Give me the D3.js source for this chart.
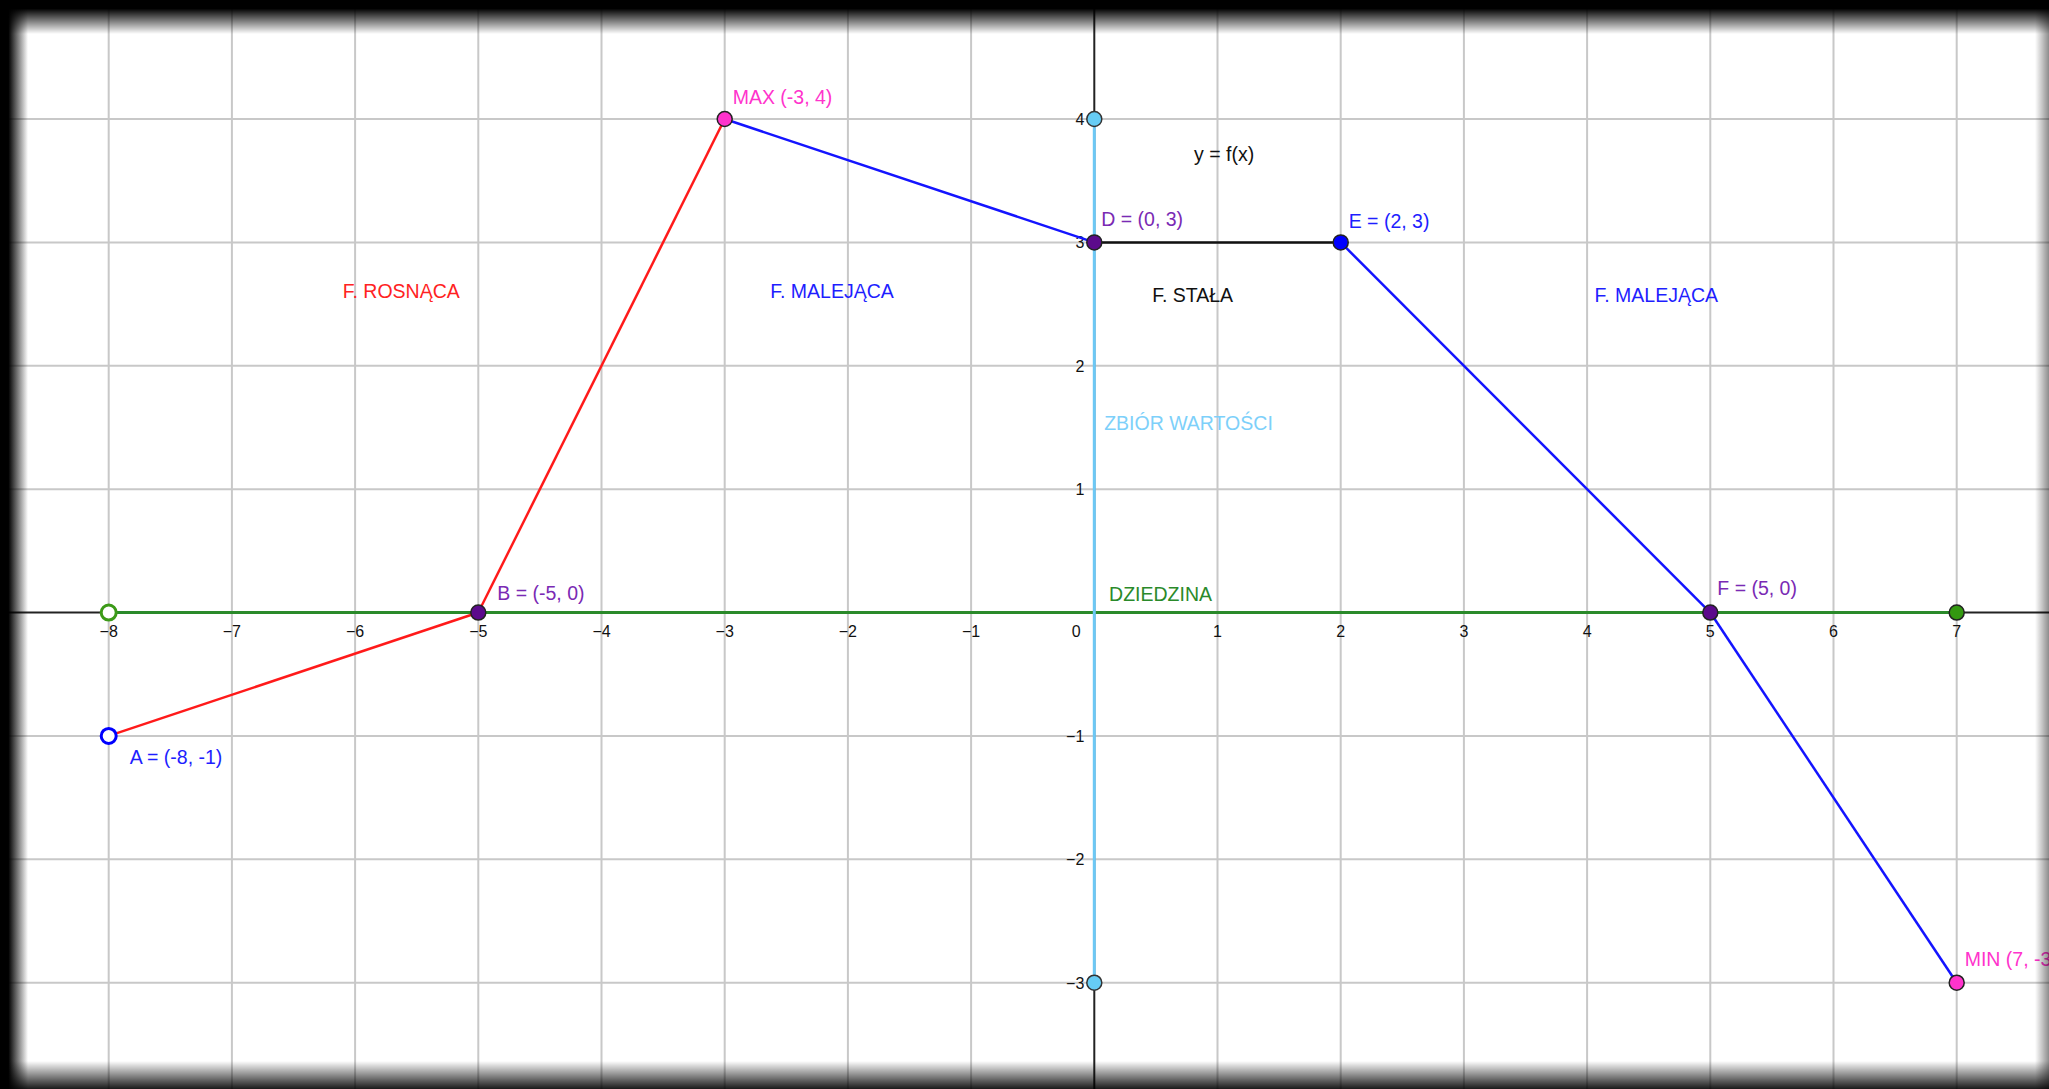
<!DOCTYPE html>
<html>
<head>
<meta charset="utf-8">
<script src="https://cdn.jsdelivr.net/npm/d3@7"></script>
<style>
  body { margin: 0; background: #fff; overflow: hidden; }
  svg { display: block; font-family: "Liberation Sans", Arial, sans-serif; }
</style>
</head>
<body>
<svg id="chart"></svg>
<script>
// function graph y = f(x), vertices in order
const fX = [-8, -5, -3, 0, 2, 5, 7];
const fY = [-1, 0, 4, 3, 3, 0, -3];
const pointLabels = ["A = (-8, -1)", "B = (-5, 0)", "MAX (-3, 4)", "D = (0, 3)", "E = (2, 3)", "F = (5, 0)", "MIN (7, -3)"];

// domain on x axis, range on y axis
const domainX = [-8, 7];
const rangeY = [-3, 4];

const xTicks = [-8, -7, -6, -5, -4, -3, -2, -1, 0, 1, 2, 3, 4, 5, 6, 7];
const yTicks = [-3, -2, -1, 1, 2, 3, 4];

// free texts placed in the plane (x, y of the text start / baseline)
const noteTexts = ["F. ROSNĄCA", "F. MALEJĄCA", "F. STAŁA", "F. MALEJĄCA", "y = f(x)", "ZBIÓR WARTOŚCI", "DZIEDZINA"];
const noteX = [-6.1, -2.63, 0.47, 4.06, 0.81, 0.08, 0.12];
const noteY = [2.55, 2.55, 2.52, 2.52, 3.66, 1.48, 0.09];

const width = 2049, height = 1089;

const svg = d3.select("#chart").attr("width", width).attr("height", height);

const x = d3.scaleLinear().domain([-8, 7]).range([108.7, 1956.7]);
const y = d3.scaleLinear().domain([-3, 4]).range([982.7, 119]);

// grid
const grid = svg.append("g").attr("stroke", "#c8c8c8").attr("stroke-width", 2);
grid.selectAll("line.v")
    .data(d3.range(-8, 8).filter(d => d !== 0))
    .join("line")
    .attr("class", "v")
    .attr("x1", d => x(d)).attr("x2", d => x(d))
    .attr("y1", 0).attr("y2", height);
grid.selectAll("line.h")
    .data(d3.range(-3, 5).filter(d => d !== 0))
    .join("line")
    .attr("class", "h")
    .attr("y1", d => y(d)).attr("y2", d => y(d))
    .attr("x1", 0).attr("x2", width);

// axes
svg.append("line")
    .attr("x1", 0).attr("x2", width)
    .attr("y1", y(0)).attr("y2", y(0))
    .attr("stroke", "#222").attr("stroke-width", 2);
svg.append("line")
    .attr("x1", x(0)).attr("x2", x(0))
    .attr("y1", 0).attr("y2", height)
    .attr("stroke", "#222").attr("stroke-width", 2);

const fmt = d => d < 0 ? "\u2212" + Math.abs(d) : String(d);

svg.append("g")
    .selectAll("text")
    .data(xTicks)
    .join("text")
    .attr("x", d => d === 0 ? x(0) - 18 : x(d))
    .attr("y", y(0) + 24)
    .attr("text-anchor", "middle")
    .attr("font-size", 16)
    .attr("fill", "#111")
    .text(fmt);

svg.append("g")
    .selectAll("text")
    .data(yTicks)
    .join("text")
    .attr("x", x(0) - 10)
    .attr("y", d => y(d) + 6)
    .attr("text-anchor", "end")
    .attr("font-size", 16)
    .attr("fill", "#111")
    .text(fmt);

// domain and range segments
svg.append("line")
    .attr("x1", x(domainX[0])).attr("x2", x(domainX[1]))
    .attr("y1", y(0)).attr("y2", y(0))
    .attr("stroke", "#2a8a2a").attr("stroke-width", 3);
svg.append("line")
    .attr("x1", x(0)).attr("x2", x(0))
    .attr("y1", y(rangeY[0])).attr("y2", y(rangeY[1]))
    .attr("stroke", "#6cc8f5").attr("stroke-width", 3);

// graph pieces
const segColors = ["#ff1a1a", "#ff1a1a", "#1414ff", "#111", "#1414ff", "#1414ff"];
const segs = d3.range(fX.length - 1).map(i => ({ i, x1: fX[i], y1: fY[i], x2: fX[i + 1], y2: fY[i + 1] }));
svg.append("g")
    .selectAll("line")
    .data(segs)
    .join("line")
    .attr("x1", d => x(d.x1)).attr("y1", d => y(d.y1))
    .attr("x2", d => x(d.x2)).attr("y2", d => y(d.y2))
    .attr("stroke", d => segColors[d.i])
    .attr("stroke-width", 2.5);

// free texts
const noteColors = ["#ff2222", "#1e1eff", "#111", "#1e1eff", "#111", "#7dd0fa", "#2a8a2a"];
svg.append("g")
    .selectAll("text")
    .data(noteTexts)
    .join("text")
    .attr("x", (d, i) => x(noteX[i]))
    .attr("y", (d, i) => y(noteY[i]))
    .attr("font-size", 19.5)
    .attr("fill", (d, i) => noteColors[i])
    .text(d => d);

// end points of domain / range
const pts = svg.append("g");
pts.append("circle")
    .attr("cx", x(domainX[0])).attr("cy", y(0)).attr("r", 7.5)
    .attr("fill", "#fff").attr("stroke", "#3c9a18").attr("stroke-width", 3);
pts.append("circle")
    .attr("cx", x(domainX[1])).attr("cy", y(0)).attr("r", 7.5)
    .attr("fill", "#339910").attr("stroke", "#222").attr("stroke-width", 1.5);
pts.selectAll("circle.r")
    .data(rangeY)
    .join("circle")
    .attr("class", "r")
    .attr("cx", x(0)).attr("cy", d => y(d)).attr("r", 7.5)
    .attr("fill", "#66ccf5").attr("stroke", "#333").attr("stroke-width", 1.5);

// graph vertices
const ptFill = ["#fff", "#5c0a8c", "#ff33cc", "#5c0a8c", "#0000ff", "#5c0a8c", "#ff33cc"];
const ptStroke = ["#0000ff", "#222", "#222", "#222", "#222", "#222", "#222"];
const labColor = ["#1e1eff", "#7a2ab4", "#ff33cc", "#7a2ab4", "#1e1eff", "#7a2ab4", "#ff33cc"];
const labDx = [21, 19, 8, 7, 8, 7, 8];
const labDy = [28, -13, -15, -16, -14, -18, -17];

pts.selectAll("circle.f")
    .data(fX)
    .join("circle")
    .attr("class", "f")
    .attr("cx", d => x(d))
    .attr("cy", (d, i) => y(fY[i]))
    .attr("r", 7.5)
    .attr("fill", (d, i) => ptFill[i])
    .attr("stroke", (d, i) => ptStroke[i])
    .attr("stroke-width", (d, i) => i === 0 ? 3 : 1.5);

svg.append("g")
    .selectAll("text")
    .data(pointLabels)
    .join("text")
    .attr("x", (d, i) => x(fX[i]) + labDx[i])
    .attr("y", (d, i) => y(fY[i]) + labDy[i])
    .attr("font-size", 19.5)
    .attr("fill", (d, i) => labColor[i])
    .text(d => d);

// dark vignette round the picture
const defs = svg.append("defs");
function grad(id, x1, y1, x2, y2, stops) {
    const g = defs.append("linearGradient").attr("id", id)
        .attr("x1", x1).attr("y1", y1).attr("x2", x2).attr("y2", y2);
    stops.forEach(s => g.append("stop").attr("offset", s[0]).attr("stop-color", "#000").attr("stop-opacity", s[1]));
}
grad("gTop", 0, 0, 0, 1, [[0, 1], [0.25, 1], [1, 0]]);
grad("gLeft", 0, 0, 1, 0, [[0, 1], [0.3, 1], [1, 0]]);
grad("gBottom", 0, 1, 0, 0, [[0, 0.9], [1, 0]]);
grad("gRight", 1, 0, 0, 0, [[0, 0.45], [1, 0]]);

svg.append("rect").attr("x", 0).attr("y", 0).attr("width", width).attr("height", 34).attr("fill", "url(#gTop)");
svg.append("rect").attr("x", 0).attr("y", 0).attr("width", 28).attr("height", height).attr("fill", "url(#gLeft)");
svg.append("rect").attr("x", 0).attr("y", height - 28).attr("width", width).attr("height", 28).attr("fill", "url(#gBottom)");
svg.append("rect").attr("x", width - 14).attr("y", 0).attr("width", 14).attr("height", height).attr("fill", "url(#gRight)");
</script>
</body>
</html>
